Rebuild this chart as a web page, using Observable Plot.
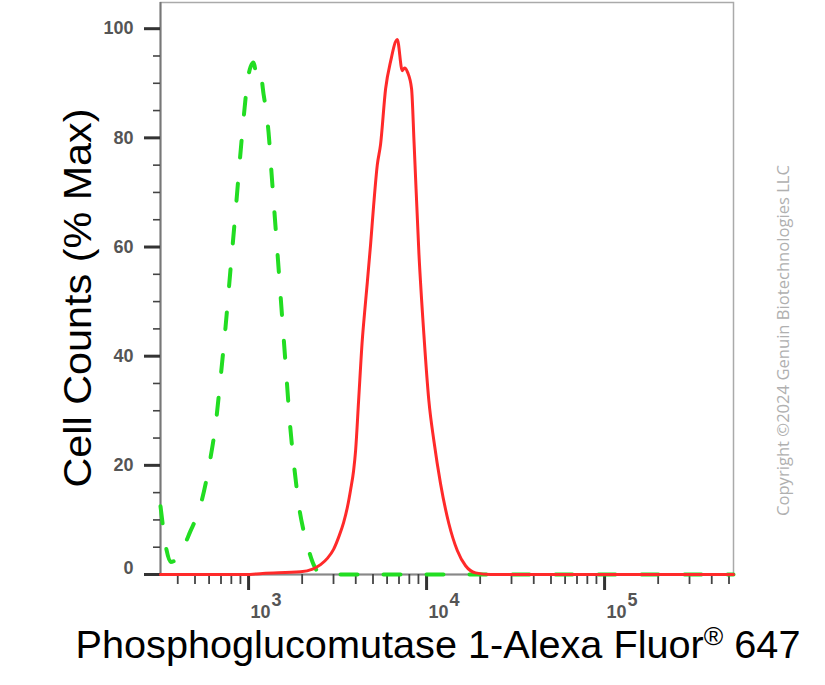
<!DOCTYPE html>
<html><head><meta charset="utf-8">
<script src="https://cdn.jsdelivr.net/npm/d3@7"></script>
<script src="https://cdn.jsdelivr.net/npm/@observablehq/plot@0.6"></script>
<style>body{margin:0;background:#fff} #chart svg{display:block}</style>
</head><body><div id="chart"></div>
<script>
// Isotype control (green dashed)
const greenX = [320, 333, 346, 365, 394, 431, 472, 510, 545, 581, 612, 653, 696, 743, 792, 845, 902, 950, 987, 1026, 1067, 1109, 1160, 1214, 1254, 1295, 1346, 1400, 1456, 1513, 1573, 1635, 1699, 1767, 1837, 1909, 2037, 2174, 2319, 2474, 2708, 530000];
const greenY = [12.5, 8, 4.5, 2.3, 2.8, 5, 8, 10.5, 13.5, 17.5, 21.5, 27.5, 36, 45.5, 56, 66.5, 77.5, 85.5, 90.5, 93, 93.8, 91.5, 92.3, 88, 85, 81, 73.5, 66, 58.5, 51, 43.5, 36, 28.5, 22.5, 17.5, 13, 8, 4.5, 1.8, 0.4, 0, 0];
// Stained sample (red)
const redX = [320, 962, 1199, 1960, 2289, 2538, 2778, 3002, 3204, 3418, 3599, 3741, 3890, 3992, 4150, 4354, 4485, 4645, 4847, 5038, 5284, 5515, 5886, 6279, 6846, 7302, 7522, 7823, 8235, 8509, 9051, 9656, 10302, 10990, 11988, 13346, 14877, 16560, 18850, 22880, 530000];
const redY = [0, 0, 0.2, 0.5, 1.0, 1.8, 3, 4.6, 6.8, 9.5, 12.5, 15.5, 19, 22.7, 31.8, 43, 48, 53.5, 60.5, 67.5, 75, 78.8, 89, 94, 98, 92.3, 92.8, 92, 89, 79, 59, 44, 31.8, 24.5, 16.6, 9.3, 4.4, 1.6, 0.3, 0, 0];

const yMajorTicks = [0, 20, 40, 60, 80, 100];
const yMinorTicks = [5, 10, 15, 25, 30, 35, 45, 50, 55, 65, 70, 75, 85, 90, 95];
const xDecades = [1e3, 1e4, 1e5];
const xDecadeExponents = ["3", "4", "5"];
const xMinorTicks = [400, 500, 600, 700, 800, 900, 2000, 3000, 4000, 5000, 6000, 7000, 8000, 9000, 20000, 30000, 40000, 50000, 60000, 70000, 80000, 90000, 200000, 300000, 400000, 500000];
const xLabel = "Phosphoglucomutase 1-Alexa Fluor® 647";
const yLabel = "Cell Counts (% Max)";
const copyright = "Copyright ©2024 Genuin Biotechnologies LLC";

const green = greenX.map((x, i) => ({x, y: greenY[i]}));
const red = redX.map((x, i) => ({x, y: redY[i]}));

const chart = Plot.plot({
  width: 825, height: 685,
  marginLeft: 160, marginRight: 92, marginTop: 2, marginBottom: 111,
  x: {type: "log", domain: [320, 530000]},
  y: {domain: [0, 104.8]},
  style: {fontFamily: "'Liberation Sans', Arial, sans-serif", background: "#fff"},
  marks: [
    Plot.frame({stroke: "#aaa", strokeWidth: 1.5}),
    Plot.ruleX([320], {stroke: "#777", strokeWidth: 2}),
    Plot.ruleY([0], {stroke: "#888", strokeWidth: 2}),
    Plot.axisY({ticks: yMajorTicks, tickSize: 16, strokeWidth: 3, color: "#333", tickFormat: () => "", label: null}),
    Plot.axisY({ticks: yMinorTicks, tickSize: 7, strokeWidth: 1.6, color: "#444", tickFormat: () => "", label: null}),
    Plot.axisY({ticks: yMajorTicks.slice(1), tickSize: 0, tickPadding: 27, fontSize: 18, fontWeight: "bold", color: "#555", label: null}),
    Plot.axisY({ticks: yMajorTicks.slice(0, 1), tickSize: 0, tickPadding: 27, fontSize: 18, fontWeight: "bold", color: "#555", label: null, dy: -6}),
    Plot.axisX({ticks: xDecades, tickSize: 16, strokeWidth: 3, color: "#333", tickFormat: () => "", label: null}),
    Plot.axisX({ticks: xMinorTicks, tickSize: 10, strokeWidth: 1.8, color: "#444", tickFormat: () => "", label: null}),
    Plot.text(xDecades, {x: d => d, text: () => "10", frameAnchor: "bottom", textAnchor: "start", dx: 2, dy: 43.6, fontSize: 18, fontWeight: "bold", fill: "#555"}),
    Plot.text(xDecades, {x: d => d, text: (d, i) => xDecadeExponents[i], frameAnchor: "bottom", textAnchor: "start", dx: 23, dy: 31.6, fontSize: 18, fontWeight: "bold", fill: "#555"}),
    Plot.line(green, {x: "x", y: "y", stroke: "#22dd22", strokeWidth: 4, strokeDasharray: "17,26", strokeLinecap: "round", curve: "monotone-x"}),
    Plot.line(red, {x: "x", y: "y", stroke: "#ff2a2a", strokeWidth: 3, curve: "monotone-x"}),
    Plot.text([yLabel], {text: d => d, frameAnchor: "left", textAnchor: "middle", dx: -82, dy: 9.5, rotate: -90, fontSize: 38, fill: "#000"}),
    Plot.text([xLabel], {text: d => d, frameAnchor: "bottom", textAnchor: "middle", dx: -9, dy: 83.5, fontSize: 39, fill: "#000"}),
    Plot.text([copyright], {text: d => d, frameAnchor: "right", textAnchor: "middle", dx: 50, dy: 52, rotate: -90, fontSize: 16.3, fill: "#b0b0b0", fontFamily: "'Open Sans', sans-serif"})
  ]
});

d3.select(chart).selectAll("text").each(function() {
  const s = this.textContent;
  const el = d3.select(this);
  if (s === xLabel) {
    const [a, b] = xLabel.split("®");
    el.text(null);
    el.append("tspan").text(a);
    el.append("tspan").attr("font-size", 26).attr("dy", -13).text("®");
    el.append("tspan").attr("dy", 13).text(b);
    el.attr("textLength", 725).attr("lengthAdjust", "spacingAndGlyphs");
  } else if (s === yLabel) {
    el.attr("textLength", 379).attr("lengthAdjust", "spacingAndGlyphs");
  } else if (s === copyright) {
    el.attr("textLength", 351).attr("lengthAdjust", "spacingAndGlyphs");
  }
});

document.getElementById("chart").appendChild(chart);
</script>
</body></html>
